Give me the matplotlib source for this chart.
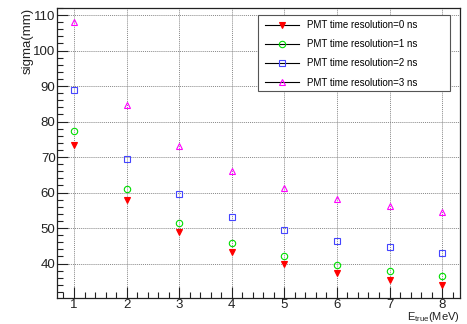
import matplotlib.pyplot as plt
from matplotlib.lines import Line2D
from matplotlib.patches import Rectangle
from matplotlib.ticker import MultipleLocator

plt.rcParams["font.family"] = ["Liberation Sans", "DejaVu Sans"]
plt.rcParams["mathtext.fontset"] = "custom"
plt.rcParams["mathtext.rm"] = "Liberation Sans"

energy = [1, 2, 3, 4, 5, 6, 7, 8]
sigma_0ns = [73.4, 57.9, 48.8, 43.3, 39.8, 37.4, 35.4, 34.0]
sigma_1ns = [77.3, 61.0, 51.5, 45.9, 42.2, 39.7, 37.9, 36.5]
sigma_2ns = [89.0, 69.5, 59.5, 53.1, 49.4, 46.4, 44.7, 43.1]
sigma_3ns = [108.0, 84.6, 73.1, 66.1, 61.4, 58.1, 56.2, 54.6]

labels = [
    "PMT time resolution=0 ns",
    "PMT time resolution=1 ns",
    "PMT time resolution=2 ns",
    "PMT time resolution=3 ns",
]

STYLES = [
    {"marker": "v", "color": "#ff0000", "mfc": "#ff0000"},
    {"marker": "o", "color": "#00dd00", "mfc": "none"},
    {"marker": "s", "color": "#4444ff", "mfc": "none"},
    {"marker": "^", "color": "#ff00ff", "mfc": "none"},
]
TEXT_COL = "#222222"
W, H = 467, 324

fig = plt.figure(figsize=(W / 100, H / 100), dpi=100)
ax = fig.add_axes([57 / W, 1 - 298 / H, (460 - 57) / W, (298 - 8) / H])

series = [sigma_0ns, sigma_1ns, sigma_2ns, sigma_3ns]
handles = []
for vals, st, lab in zip(series, STYLES, labels):
    ax.plot(energy, vals, linestyle="none", marker=st["marker"], markersize=4.6,
            color=st["color"], markerfacecolor=st["mfc"], markeredgewidth=0.8, zorder=3)
    handles.append(Line2D([0], [0], color="black", linewidth=0.8, marker=st["marker"],
                          markersize=4.6, markeredgecolor=st["color"],
                          markerfacecolor=st["mfc"], markeredgewidth=0.8))

ax.set_xlim(0.677, 8.34)
ax.set_ylim(30.3, 112)
ax.xaxis.set_major_locator(MultipleLocator(1))
ax.xaxis.set_minor_locator(MultipleLocator(0.2))
ax.yaxis.set_major_locator(MultipleLocator(10))
ax.yaxis.set_minor_locator(MultipleLocator(2))
ax.tick_params(which="both", direction="in", top=False, right=False,
               colors=TEXT_COL, labelsize=9.5, width=0.8)
ax.tick_params(which="major", length=8, pad=1)
ax.tick_params(which="minor", length=4)
ax.grid(True, which="major", color="#888888", linestyle=(0, (1, 1)), linewidth=0.7)

for sp in ax.spines.values():
    sp.set_color(TEXT_COL)
    sp.set_linewidth(0.9)

ax.set_ylabel("sigma(mm)", loc="top", fontsize=9.5, color=TEXT_COL)
ax.yaxis.set_label_coords(-0.057, 1.0)
ax.set_xlabel(r"E$_{\mathrm{true}}$(MeV)", loc="right", fontsize=8, color=TEXT_COL)
ax.xaxis.set_label_coords(1.0, -0.066)
ax.xaxis.label.set_va("center")

# legend box drawn by hand, ROOT style (wide right margin)
box = Rectangle((258 / W, 1 - 91 / H), (450 - 258) / W, (91 - 15) / H,
                transform=fig.transFigure, facecolor="white", edgecolor="#555555",
                linewidth=0.8, zorder=4, clip_on=False)
ax.add_patch(box)
leg = ax.legend(handles, labels, loc="upper left", bbox_to_anchor=(265 / W, 1 - 20 / H),
                bbox_transform=fig.transFigure, borderaxespad=0, borderpad=0,
                fontsize=7, handlelength=3.5, handletextpad=0.8, labelspacing=0.95,
                frameon=False)
leg.set_zorder(5)

fig.savefig("out.png", dpi=100)
